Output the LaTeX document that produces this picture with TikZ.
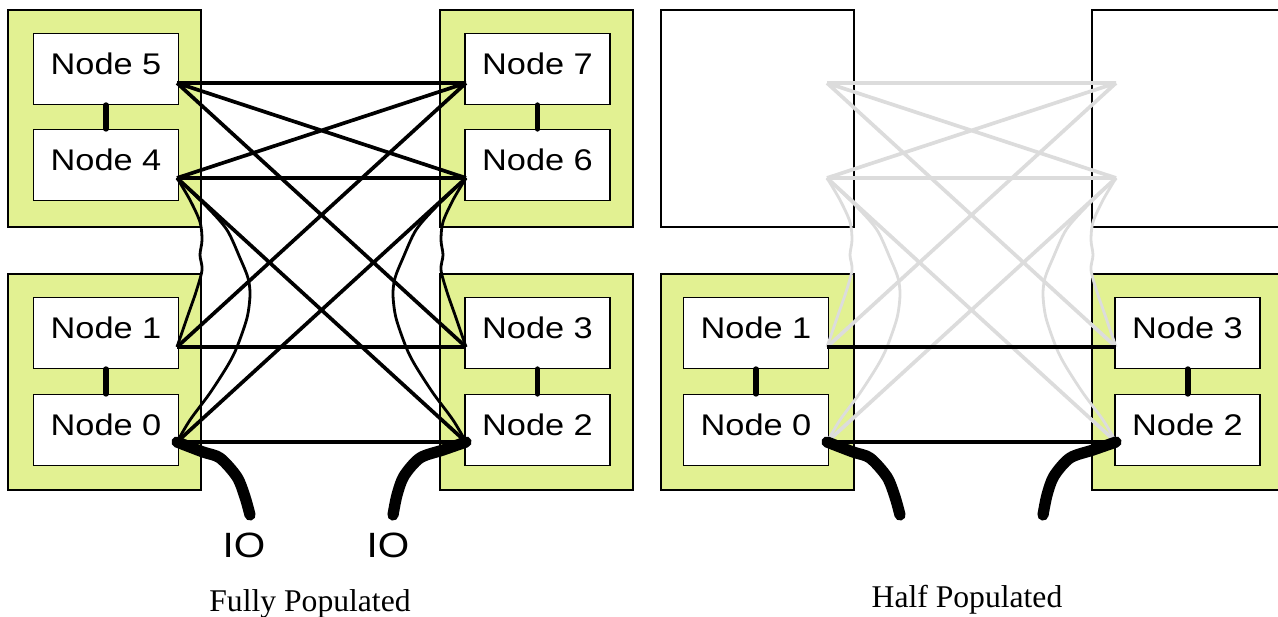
\documentclass[tikz,border=0pt]{standalone}
\usepackage{fontspec}
\setmainfont{Liberation Serif}
\newfontfamily\labelfont[FakeStretch=1.15]{Liberation Sans}
\definecolor{boardgreen}{RGB}{226,241,146}
\definecolor{ghost}{RGB}{220,220,220}

\begin{document}
\begin{tikzpicture}[x=0.02cm,y=-0.02cm,
	board/.style={
		draw,
		line width=0.9pt,
		fill=#1
	},
	board/.default=boardgreen,
	nodebox/.style={
		draw,
		fill=white,
		line width=0.9pt,
		minimum width=2.9cm,
		minimum height=1.42cm,
		text depth=0.2cm,
		font=\labelfont\fontsize{17}{20}\selectfont
	},
	link/.style={line width=2.1pt},
	flat/.style={line width=1.9pt},
	wiggle/.style={line width=1.6pt},
	bridge/.style={line width=3.4pt,line cap=round},
	cable/.style={line width=6.4pt,line cap=round,line join=round}]

	\useasboundingbox (0,0) rectangle (1278,617);

	% boards
	\draw[board] (8,10) rectangle (201,227);
	\draw[board] (440,10) rectangle (633,227);
	\draw[board] (8,274) rectangle (201,490);
	\draw[board] (440,274) rectangle (633,490);
	\draw[board=white] (661,10) rectangle (854,227);
	\draw[board=white] (1092,10) rectangle (1290,227);
	\draw[board] (661,274) rectangle (854,490);
	\draw[board] (1092,274) rectangle (1290,490);

	% upper nodes only in the full system
	\node[nodebox] (L-n5) at (106,69) {Node 5};
	\node[nodebox] (L-n4) at (106,165) {Node 4};
	\node[nodebox] (L-n7) at (537.5,69) {Node 7};
	\node[nodebox] (L-n6) at (537.5,165) {Node 6};
	\draw[bridge] (L-n5) -- (L-n4);
	\draw[bridge] (L-n7) -- (L-n6);

	\foreach \dx/\p/\c in {0/L/black,650/R/ghost}{
	\begin{scope}[shift={(\dx,0)}]
		\node[nodebox] (\p-n1) at (106,333) {Node 1};
		\node[nodebox] (\p-n0) at (106,430) {Node 0};
		\node[nodebox] (\p-n3) at (537.5,333) {Node 3};
		\node[nodebox] (\p-n2) at (537.5,430) {Node 2};
		\draw[bridge] (\p-n1) -- (\p-n0);
		\draw[bridge] (\p-n3) -- (\p-n2);

		% ports
		\coordinate (\p-p5) at (177,83);
		\coordinate (\p-p4) at (177,178);
		\coordinate (\p-p1) at (177,347);
		\coordinate (\p-p0) at (177,442);
		\coordinate (\p-p7) at (466,83);
		\coordinate (\p-p6) at (466,178);
		\coordinate (\p-p3) at (466,347);
		\coordinate (\p-p2) at (466,442);

		\draw[link,\c] (\p-p5) -- (\p-p7) (\p-p5) -- (\p-p6) (\p-p5) -- (\p-p3)
			(\p-p4) -- (\p-p7) (\p-p4) -- (\p-p6) (\p-p4) -- (\p-p2)
			(\p-p7) -- (\p-p1) (\p-p6) -- (\p-p0);
		\draw[wiggle,\c] plot[smooth] coordinates {(\p-p4) (190,200) (200,222) (202,240) (200,255) (202,270) (196,292) (188,315) (\p-p1)};
		\draw[wiggle,\c] plot[smooth] coordinates {(\p-p4) (207,207) (227,230) (240,258) (248,278) (250,295) (247,318) (237,347) (228,365) (210,393) (190,420) (\p-p0)};
		\draw[wiggle,\c] plot[smooth] coordinates {(\p-p6) (453,200) (443,222) (441,240) (443,255) (441,270) (447,292) (455,315) (\p-p3)};
		\draw[wiggle,\c] plot[smooth] coordinates {(\p-p6) (436,207) (416,230) (403,258) (395,278) (393,295) (396,318) (406,347) (415,365) (433,393) (453,420) (\p-p2)};

		\draw[flat] (\p-p1) -- (\p-p3) (\p-p0) -- (\p-p2);

		% io cables
		\draw[cable] plot[smooth] coordinates {(\p-p0) (203,452) (220,458) (237,477) (245,497) (250,515)};
		\draw[cable] plot[smooth] coordinates {(\p-p2) (443,450) (420,458) (404,476) (397,495) (393,515)};
	\end{scope}
	}

	\node[font=\labelfont\fontsize{20}{24}\selectfont] (io-a) at (244,545) {IO};
	\node[font=\labelfont\fontsize{20}{24}\selectfont] (io-b) at (388,545) {IO};

	\node[anchor=base,font=\fontsize{18}{20}\selectfont] (full) at (310,612) {Fully Populated};
	\node[anchor=base,font=\fontsize{18}{20}\selectfont] (half) at (967,608) {Half Populated};
\end{tikzpicture}
\end{document}
